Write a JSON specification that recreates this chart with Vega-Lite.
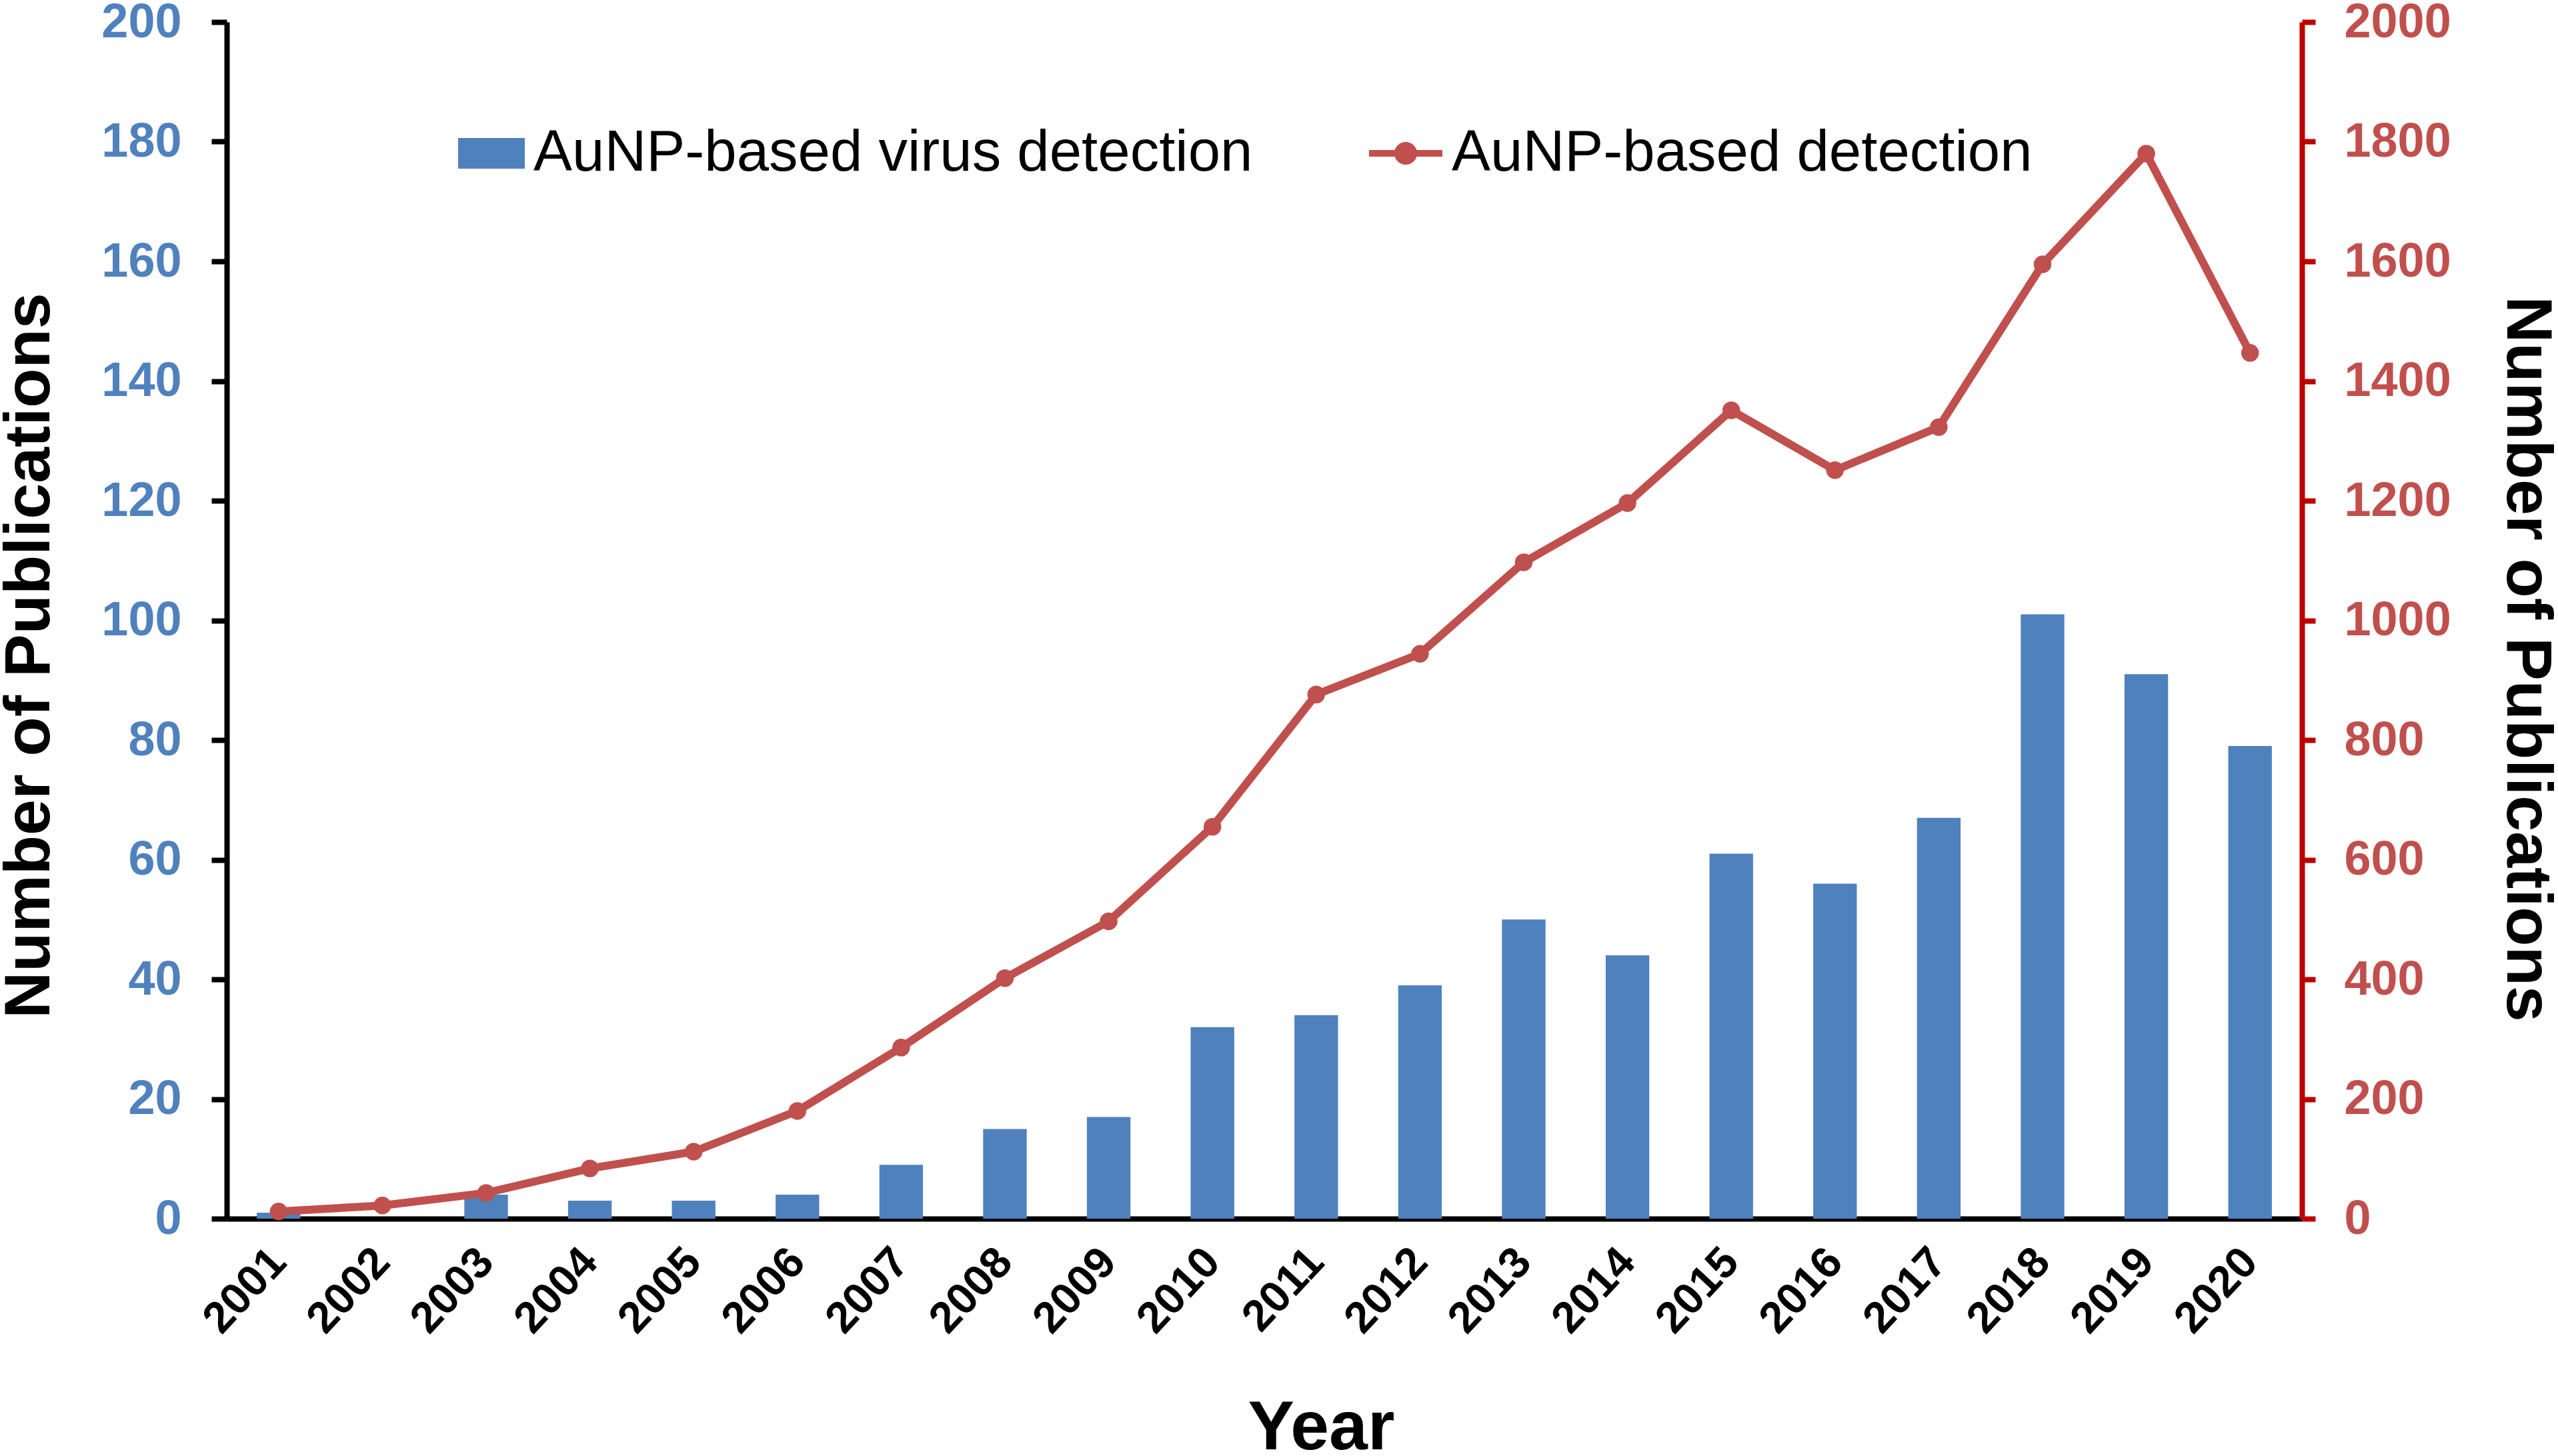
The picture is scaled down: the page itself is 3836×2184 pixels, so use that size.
{
  "$schema": "https://vega.github.io/schema/vega-lite/v6.json",
  "width": 3112,
  "height": 1795,
  "autosize": {"type": "none"},
  "padding": {"left": 340, "top": 33, "right": 384, "bottom": 356},
  "background": "white",
  "config": {
    "font": "Liberation Sans",
    "view": {"stroke": null},
    "axis": {"grid": false}
  },
  "data": {
    "values": [
      {"year": "2001", "virus": 1, "total": 12},
      {"year": "2002", "virus": 0, "total": 22},
      {"year": "2003", "virus": 4, "total": 43},
      {"year": "2004", "virus": 3, "total": 84},
      {"year": "2005", "virus": 3, "total": 112},
      {"year": "2006", "virus": 4, "total": 180},
      {"year": "2007", "virus": 9, "total": 286},
      {"year": "2008", "virus": 15, "total": 402},
      {"year": "2009", "virus": 17, "total": 497},
      {"year": "2010", "virus": 32, "total": 655},
      {"year": "2011", "virus": 34, "total": 876},
      {"year": "2012", "virus": 39, "total": 944},
      {"year": "2013", "virus": 50, "total": 1097},
      {"year": "2014", "virus": 44, "total": 1196},
      {"year": "2015", "virus": 61, "total": 1351},
      {"year": "2016", "virus": 56, "total": 1251},
      {"year": "2017", "virus": 67, "total": 1323},
      {"year": "2018", "virus": 101, "total": 1595},
      {"year": "2019", "virus": 91, "total": 1780},
      {"year": "2020", "virus": 79, "total": 1447}
    ]
  },
  "layer": [
    {
      "mark": {"type": "bar"},
      "encoding": {
        "x": {
          "field": "year",
          "type": "ordinal",
          "scale": {"paddingInner": 0.58, "paddingOuter": 0.29},
          "axis": {
            "title": "Year",
            "titleFontSize": 104,
            "titleFontWeight": "bold",
            "titleColor": "black",
            "titlePadding": 80,
            "titleX": 1641,
            "labelAngle": -47,
            "labelFontSize": 66,
            "labelFontWeight": "bold",
            "labelColor": "black",
            "labelPadding": 54,
            "ticks": false,
            "domainColor": "black",
            "domainWidth": 8
          }
        },
        "y": {
          "field": "virus",
          "type": "quantitative",
          "scale": {"domain": [0, 200], "nice": false},
          "axis": {
            "orient": "left",
            "values": [0, 20, 40, 60, 80, 100, 120, 140, 160, 180, 200],
            "title": "Number of Publications",
            "titleFontSize": 97,
            "titleFontWeight": "bold",
            "titleColor": "black",
            "titlePadding": 58,
            "titleY": 950,
            "labelFontSize": 72,
            "labelFontWeight": "bold",
            "labelColor": "#4F81BD",
            "labelPadding": 45,
            "tickSize": 23,
            "tickWidth": 8,
            "tickColor": "black",
            "domainColor": "black",
            "domainWidth": 8
          }
        },
        "fill": {
          "datum": "AuNP-based virus detection",
          "scale": {"range": ["#4F81BD"]},
          "legend": {
            "title": null,
            "orient": "none",
            "legendX": 347,
            "legendY": 147,
            "padding": 0,
            "symbolType": "M-1,-0.46L1,-0.46L1,0.46L-1,0.46Z",
            "symbolSize": 10000,
            "symbolStrokeWidth": 0,
            "labelFontSize": 87,
            "labelColor": "black",
            "labelOffset": 13,
            "labelLimit": 3000
          }
        }
      }
    },
    {
      "encoding": {
        "x": {"field": "year", "type": "ordinal"},
        "y": {
          "field": "total",
          "type": "quantitative",
          "scale": {"domain": [0, 2000], "nice": false},
          "axis": {
            "orient": "right",
            "values": [0, 200, 400, 600, 800, 1000, 1200, 1400, 1600, 1800, 2000],
            "format": "d",
            "title": "Number of Publications",
            "titleFontSize": 97,
            "titleFontWeight": "bold",
            "titleColor": "black",
            "titlePadding": 87,
            "titleY": 955,
            "labelFontSize": 72,
            "labelFontWeight": "bold",
            "labelColor": "#C0504D",
            "labelPadding": 43,
            "labelLimit": 1000,
            "tickSize": 20,
            "tickWidth": 8,
            "tickColor": "#C00000",
            "domainColor": "#C00000",
            "domainWidth": 8
          }
        }
      },
      "layer": [
        {
          "mark": {"type": "line", "strokeWidth": 12},
          "encoding": {
            "stroke": {
              "datum": "AuNP-based detection",
              "scale": {"range": ["#C0504D"]},
              "legend": {
                "title": null,
                "orient": "none",
                "legendX": 1708,
                "legendY": 137,
                "padding": 0,
                "symbolType": "M-1,0L1,0M0.22,0A0.22,0.22,0,1,1,-0.22,0A0.22,0.22,0,1,1,0.22,0Z",
                "symbolSize": 12100,
                "symbolStrokeWidth": 10,
                "symbolFillColor": "#C0504D",
                "symbolStrokeColor": "#C0504D",
                "labelFontSize": 87,
                "labelColor": "black",
                "labelOffset": 9,
                "labelLimit": 3000,
                "encode": {
                  "symbols": {
                    "update": {
                      "fill": {"value": "#C0504D"},
                      "stroke": {"value": "#C0504D"},
                      "strokeWidth": {"value": 10}
                    }
                  }
                }
              }
            }
          }
        },
        {
          "mark": {"type": "point", "filled": true, "color": "#C0504D", "size": 700, "opacity": 1}
        }
      ]
    }
  ],
  "resolve": {"scale": {"y": "independent"}}
}
